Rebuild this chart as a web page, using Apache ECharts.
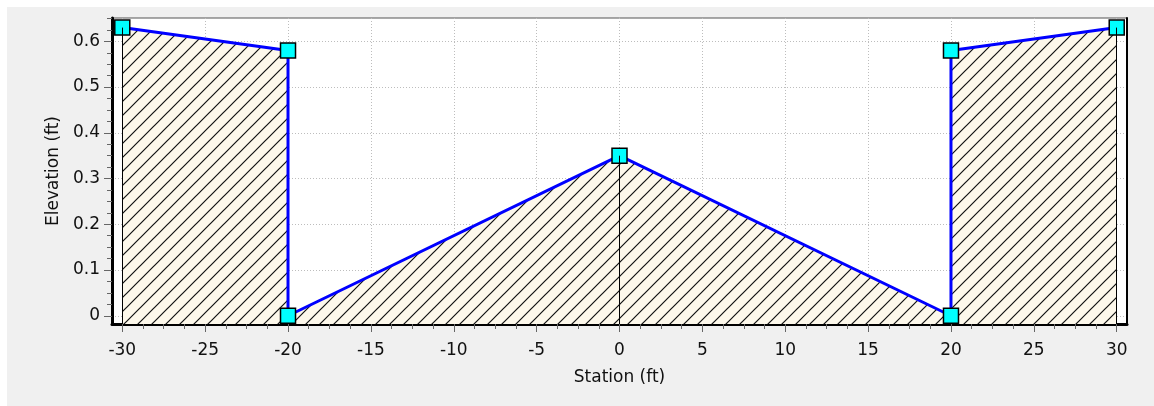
<!DOCTYPE html>
<html>
<head>
<meta charset="utf-8">
<script src="https://cdn.jsdelivr.net/npm/echarts@6/dist/echarts.min.js"></script>
<style>
  html, body { margin: 0; padding: 0; background: #ffffff; }
  #chart { width: 1154px; height: 406px; }
</style>
</head>
<body>
<div id="chart"></div>
<script>
// Cross-section profile: station (ft) vs elevation (ft)
const stations   = [-30, -20, -20, 0, 20, 20, 30];
const elevations = [0.63, 0.58, 0, 0.35, 0, 0.58, 0.63];

// Stations where the hatched ground is split by a thin vertical edge
const edgeStations = [-30, 0, 30];

// Axis tick labels
const xTicks = [-30, -25, -20, -15, -10, -5, 0, 5, 10, 15, 20, 25, 30];
const yTicks = [0, 0.1, 0.2, 0.3, 0.4, 0.5, 0.6];

// Axis extents
const X_MIN = -30.62, X_MAX = 30.62;
const Y_MIN = -0.018, Y_MAX = 0.651;

// Minor ticks: four sub-divisions per major step, kept inside the extent
function minorValues(ticks, lo, hi) {
  const step = ticks[1] - ticks[0];
  const out = [];
  const first = ticks[0] - step;
  const last = ticks[ticks.length - 1] + step;
  for (let i = 0; first + i * step < last; i++) {
    const a = first + i * step;
    for (let k = 1; k < 4; k++) {
      const v = +(a + k * step / 4).toFixed(6);
      if (v > lo && v < hi) out.push(v);
    }
  }
  return out;
}
const xMinor = minorValues(xTicks, X_MIN, X_MAX);
const yMinor = minorValues(yTicks, Y_MIN, Y_MAX);

// Diagonal hatch tile for the ground fill
function hatchTile() {
  const s = 14;
  const c = document.createElement('canvas');
  c.width = s; c.height = s;
  const g = c.getContext('2d');
  g.fillStyle = '#fdf8eb';
  g.fillRect(0, 0, s, s);
  g.strokeStyle = '#111111';
  g.lineWidth = 1.2;
  g.beginPath();
  g.moveTo(-2, s + 2); g.lineTo(s + 2, -2);
  g.moveTo(-2, 2); g.lineTo(2, -2);
  g.moveTo(s - 2, s + 2); g.lineTo(s + 2, s - 2);
  g.stroke();
  return c;
}

const points = stations.map((s, i) => [s, elevations[i]]);
const edgeLines = edgeStations.map(s => {
  const i = stations.indexOf(s);
  return [{ coord: [s, Y_MIN] }, { coord: [s, elevations[i]] }];
});

const FONT = 'DejaVu Sans';
const labelStyle = { fontFamily: FONT, fontSize: 17, color: '#111' };
const gridDots = { color: '#bdbdbd', type: [1, 2], width: 1 };

const chart = echarts.init(document.getElementById('chart'), null, { renderer: 'canvas' });

chart.setOption({
  animation: false,
  backgroundColor: '#ffffff',
  graphic: [{
    type: 'rect', z: -10, silent: true,
    shape: { x: 7, y: 7, width: 1147, height: 399 },
    style: { fill: '#f0f0f0' }
  }],
  grid: {
    left: 112, right: 27, top: 18, bottom: 82,
    show: true, backgroundColor: '#ffffff',
    borderColor: '#555555', borderWidth: 1,
    outerBoundsMode: 'none'
  },
  xAxis: [{
    type: 'value', min: X_MIN, max: X_MAX, splitNumber: 12,
    name: 'Station (ft)', nameLocation: 'middle', nameGap: 45,
    nameTextStyle: labelStyle,
    axisLine: { show: true, onZero: false, lineStyle: { color: '#000', width: 3 } },
    axisTick: { show: true, customValues: xTicks, length: 8, lineStyle: { color: '#666' } },
    axisLabel: { customValues: xTicks, margin: 18, ...labelStyle },
    splitLine: { show: true, lineStyle: gridDots }
  }, {
    type: 'value', min: X_MIN, max: X_MAX, position: 'bottom',
    axisLine: { show: false, onZero: false },
    axisTick: { show: true, customValues: xMinor, length: 5, lineStyle: { color: '#666' } },
    axisLabel: { show: false },
    splitLine: { show: false }
  }],
  yAxis: [{
    type: 'value', min: Y_MIN, max: Y_MAX, splitNumber: 7,
    name: 'Elevation (ft)', nameLocation: 'middle', nameGap: 48, nameRotate: 90,
    nameTextStyle: labelStyle,
    axisLine: { show: true, onZero: false, lineStyle: { color: '#000', width: 3 } },
    axisTick: { show: true, customValues: yTicks, length: 8, lineStyle: { color: '#666' } },
    axisLabel: { customValues: yTicks, margin: 12, ...labelStyle },
    splitLine: { show: true, lineStyle: gridDots }
  }, {
    type: 'value', min: Y_MIN, max: Y_MAX, position: 'left',
    axisLine: { show: false, onZero: false },
    axisTick: { show: true, customValues: yMinor, length: 5, lineStyle: { color: '#666' } },
    axisLabel: { show: false },
    splitLine: { show: false }
  }, {
    type: 'value', min: Y_MIN, max: Y_MAX, position: 'right',
    axisLine: { show: true, onZero: false, lineStyle: { color: '#000', width: 2 } },
    axisTick: { show: false },
    axisLabel: { show: false },
    splitLine: { show: false }
  }],
  series: [{
    type: 'line',
    xAxisIndex: 0, yAxisIndex: 0,
    data: points,
    showAllSymbol: true,
    symbol: 'rect', symbolSize: 15,
    itemStyle: { color: '#00ffff', borderColor: '#000', borderWidth: 1.5 },
    lineStyle: { color: '#0000ff', width: 3 },
    areaStyle: { origin: 'start', opacity: 1, color: { image: hatchTile(), repeat: 'repeat' } },
    markLine: {
      silent: true, symbol: 'none', animation: false,
      label: { show: false },
      lineStyle: { color: '#000', width: 1, type: 'solid' },
      emphasis: { disabled: true },
      data: edgeLines
    },
    z: 3
  }]
});
</script>
</body>
</html>
